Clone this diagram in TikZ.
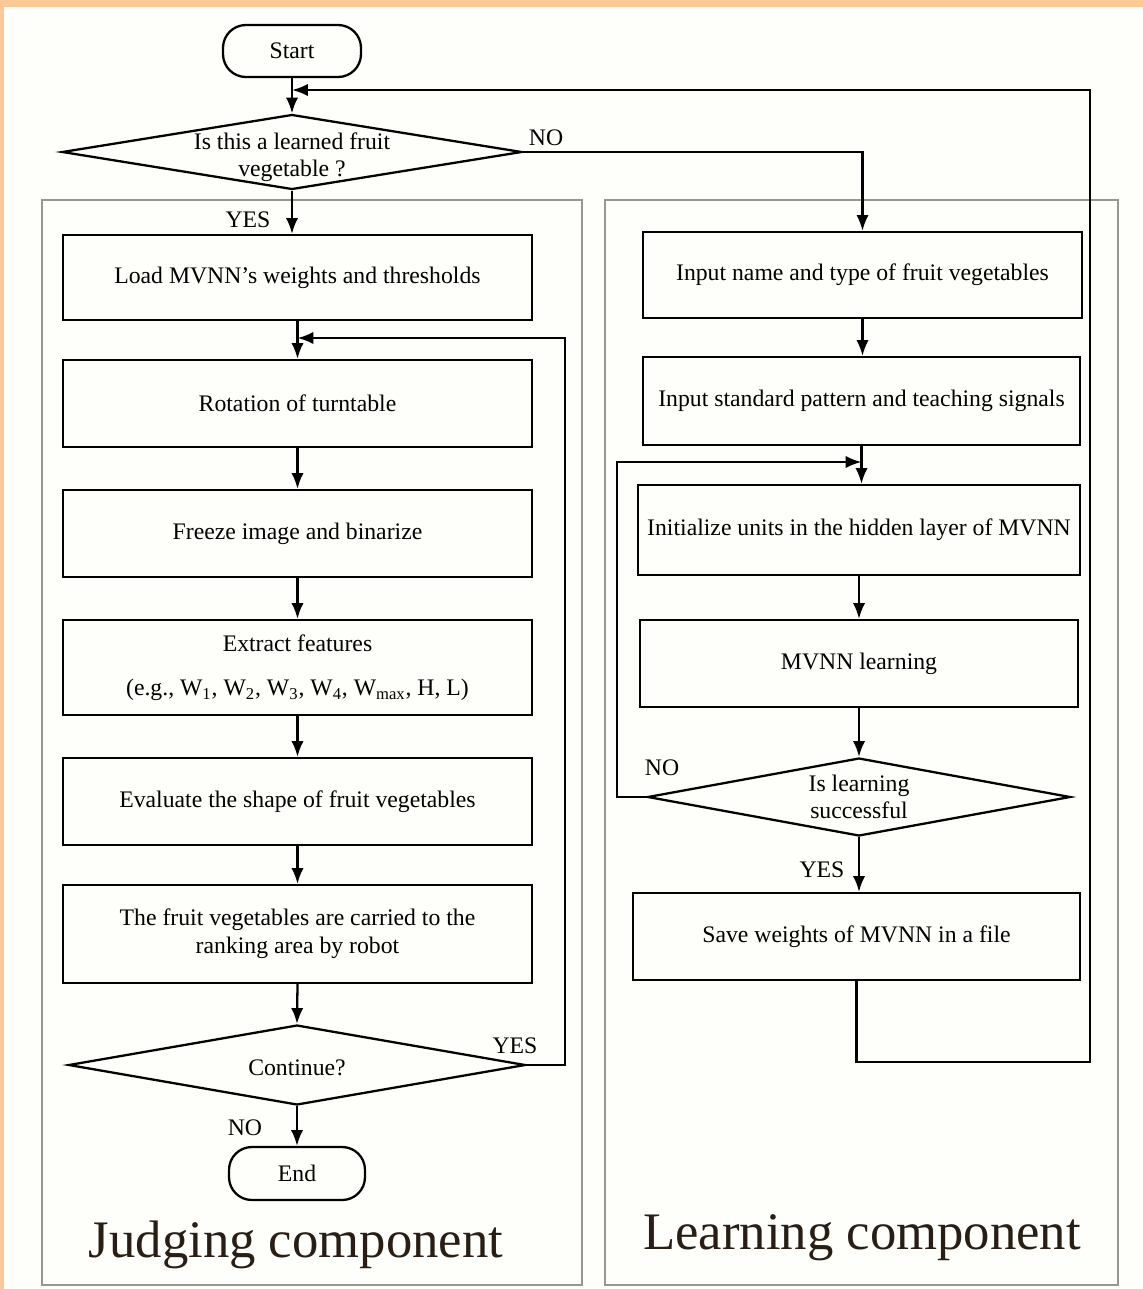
\documentclass[tikz,border=0pt]{standalone}
\usepackage{fontspec}
\setmainfont{Liberation Serif}
\usetikzlibrary{shapes.geometric,arrows.meta}
\definecolor{bgorange}{RGB}{252,200,150}
\definecolor{paper}{RGB}{254,254,250}
\definecolor{framegray}{RGB}{150,150,150}
\definecolor{titleink}{RGB}{40,30,20}
\begin{document}
\begin{tikzpicture}[x=0.02cm,y=-0.02cm,
  pbox/.style={draw, line width=1.3pt, inner sep=0pt, align=center, font=\fontsize{13.5}{16}\selectfont},
  term/.style={pbox, rounded corners=13pt},
  dia/.style={draw, diamond, line width=1.3pt, inner sep=0pt},
  txt/.style={align=center, font=\fontsize{13.5}{15.5}\selectfont},
  lbl/.style={font=\fontsize{13.5}{15}\selectfont},
  arr/.style={line width=1.3pt, -{Latex[length=9pt,width=7pt]}},
  panel/.style={draw=framegray, line width=0.7pt},
  ttl/.style={font=\fontsize{30}{34}\selectfont, text=titleink}]
\useasboundingbox (0,0) rectangle (1143,1289);
\fill[paper] (0,0) rectangle (1143,1289);
\fill[bgorange] (0,0) rectangle (1143,7);
\fill[bgorange] (0,0) rectangle (4,1289);

% panels
\draw[panel] (42,200) rectangle (582,1285);
\draw[panel] (605,200) rectangle (1118,1285);

% judging column
\node[term, minimum width=2.76cm, minimum height=1.04cm] (start) at (292,51) {Start};
\node[dia, minimum width=9.2cm, minimum height=1.5cm] (d1) at (292,152) {};
\node[txt] (d1t) at ([yshift=-0.1cm]d1.center) {Is this a learned fruit\\vegetable ?};
\node[pbox, minimum width=9.38cm, minimum height=1.7cm] (l1) at (297.5,277.5) {Load MVNN's weights and thresholds};
\node[pbox, minimum width=9.38cm, minimum height=1.74cm] (l2) at (297.5,403.5) {Rotation of turntable};
\node[pbox, minimum width=9.38cm, minimum height=1.74cm] (l3) at (297.5,533.5) {Freeze image and binarize};
\node[pbox, minimum width=9.38cm, minimum height=1.9cm] (l4) at (297.5,667.5) {Extract features\\[9pt](e.g., W\textsubscript{1}, W\textsubscript{2}, W\textsubscript{3}, W\textsubscript{4}, W\textsubscript{max}, H, L)};
\node[pbox, minimum width=9.38cm, minimum height=1.74cm] (l5) at (297.5,801.5) {Evaluate the shape of fruit vegetables};
\node[pbox, minimum width=9.38cm, minimum height=1.96cm] (l6) at (297.5,934) {The fruit vegetables are carried to the\\ranking area by robot};
\node[dia, minimum width=9.14cm, minimum height=1.6cm] (d2) at (297,1065) {};
\node[txt] (d2t) at ([yshift=-0.05cm]d2.center) {Continue?};
\node[term, minimum width=2.72cm, minimum height=1.06cm] (end) at (297,1173.5) {End};

% learning column
\node[pbox, minimum width=8.78cm, minimum height=1.72cm] (r1) at (862.5,275) {Input name and type of fruit vegetables};
\node[pbox, minimum width=8.74cm, minimum height=1.76cm] (r2) at (861.5,401) {Input standard pattern and teaching signals};
\node[pbox, minimum width=8.84cm, minimum height=1.8cm] (r3) at (859,530) {Initialize units in the hidden layer of MVNN};
\node[pbox, minimum width=8.76cm, minimum height=1.74cm] (r4) at (859,663.5) {MVNN learning};
\node[dia, minimum width=8.46cm, minimum height=1.56cm] (d3) at (859,797) {};
\node[txt] (d3t) at (d3.center) {Is learning\\successful};
\node[pbox, minimum width=8.94cm, minimum height=1.74cm] (r5) at (856.5,936.5) {Save weights of MVNN in a file};

% coordinates for loops
\coordinate (rl2) at (1090,1062);
\coordinate (rl3) at (1090,90);
\coordinate (jtop) at (292,90);
\coordinate (jl1) at (565,1065);
\coordinate (jl2) at (565,338);
\coordinate (jmid) at (297.5,338);
\coordinate (ll1) at (617,797);
\coordinate (ll2) at (617,462);
\coordinate (ll3) at (861.5,462);

% connectors judging
\draw[arr] (start.south) -- (start.south |- d1.north);
\draw[arr] (d1.south) -- (d1.south |- l1.north);
\draw[arr] (d1.east) -| (r1.north);
\draw[arr] (l1.south) -- (l2.north);
\draw[arr] (l2.south) -- (l3.north);
\draw[arr] (l3.south) -- (l4.north);
\draw[arr] (l4.south) -- (l5.north);
\draw[arr] (l5.south) -- (l6.north);
\draw[arr] (l6.south) -- (d2.north);
\draw[arr] (d2.south) -- (end.north);
\draw[arr] (d2.east) -- (jl1) -- (jl2) -- (jmid);

% connectors learning
\draw[arr] (r1.south) -- (r1.south |- r2.north);
\draw[arr] (r2.south) -- (r2.south |- r3.north);
\draw[arr] (r3.south) -- (r4.north);
\draw[arr] (r4.south) -- (d3.north);
\draw[arr] (d3.south) -- (d3.south |- r5.north);
\draw[arr] (d3.west) -- (ll1) -- (ll2) -- (ll3);
\draw[arr] (r5.south) |- (rl2) -- (rl3) -- (jtop);

% labels
\node[lbl] (no1) at (546,138) {NO};
\node[lbl] (yes1) at (248,220) {YES};
\node[lbl] (yes2) at (515,1046) {YES};
\node[lbl] (no2) at (245,1128) {NO};
\node[lbl] (no3) at (662,768) {NO};
\node[lbl] (yes3) at (822,870) {YES};

% titles
\node[ttl] (tj) at (296,1245) {Judging component};
\node[ttl] (tl) at (862,1238) {Learning component};
\end{tikzpicture}
\end{document}
